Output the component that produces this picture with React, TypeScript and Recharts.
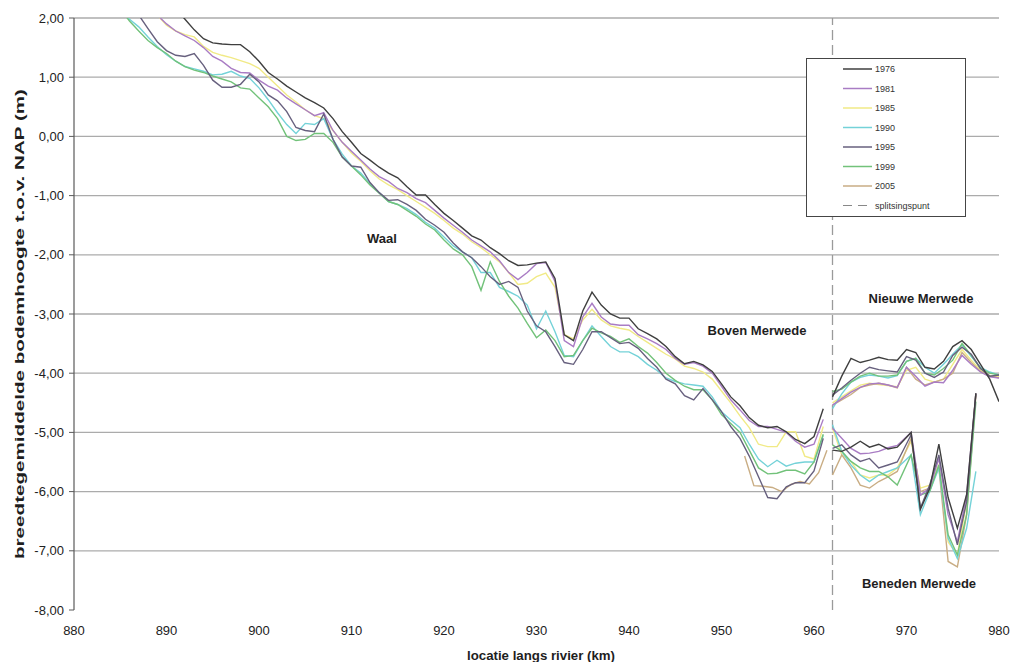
import React from "react";
import {
  LineChart,
  Line,
  XAxis,
  YAxis,
  CartesianGrid,
  ReferenceLine,
  Customized,
} from "recharts";

// ---- categories / ticks ----
const xTicks = [880, 890, 900, 910, 920, 930, 940, 950, 960, 970, 980];
const yTicks = [-8, -7, -6, -5, -4, -3, -2, -1, 0, 1, 2];
const gridValues = [-7, -6, -5, -4, -3, -2, -1, 0, 1, 2];
const splitKm = 962;

// ---- Waal / Boven Merwede (km 884 .. 961) ----
const kmWaal = [
  884, 885, 886, 887, 888, 889, 890, 891, 892, 893,
  894, 895, 896, 897, 898, 899, 900, 901, 902, 903,
  904, 905, 906, 907, 908, 909, 910, 911, 912, 913,
  914, 915, 916, 917, 918, 919, 920, 921, 922, 923,
  924, 925, 926, 927, 928, 929, 930, 931, 932, 933,
  934, 935, 936, 937, 938, 939, 940, 941, 942, 943,
  944, 945, 946, 947, 948, 949, 950, 951, 952, 953,
  954, 955, 956, 957, 958, 959, 960, 961,
];
const waal1976 = [
  3.0, 2.9, 2.8, 2.7, 2.6, 2.45, 2.3, 2.15, 1.98, 1.8,
  1.65, 1.58, 1.56, 1.55, 1.55, 1.43, 1.27, 1.08, 0.97, 0.85,
  0.75, 0.65, 0.57, 0.48, 0.3, 0.08, -0.1, -0.29, -0.4, -0.52,
  -0.62, -0.7, -0.85, -0.99, -0.99, -1.15, -1.3, -1.42, -1.55, -1.68,
  -1.75, -1.88, -1.98, -2.1, -2.18, -2.17, -2.14, -2.12, -2.4, -3.35,
  -3.45, -2.95, -2.63, -2.85, -3.0, -3.07, -3.07, -3.25, -3.33, -3.42,
  -3.55, -3.72, -3.84, -3.8, -3.86, -3.97, -4.18, -4.4, -4.55, -4.75,
  -4.88, -4.92, -4.9, -4.99, -5.12, -5.19, -5.07, -4.6,
];
const waal1981 = [
  2.8, 2.65, 2.5, 2.35, 2.2, 2.05, 1.9, 1.78, 1.7, 1.62,
  1.5, 1.35, 1.27, 1.15, 1.08, 1.07, 0.95, 0.85, 0.78, 0.65,
  0.55, 0.45, 0.35, 0.4, 0.1, -0.1, -0.25, -0.4, -0.55, -0.68,
  -0.76, -0.88, -0.95, -1.05, -1.12, -1.25, -1.38, -1.5, -1.62, -1.75,
  -1.85, -1.95, -2.1, -2.3, -2.42, -2.3, -2.15, -2.13, -2.45, -3.45,
  -3.55, -3.05, -2.82, -3.05, -3.17, -3.19, -3.19, -3.35, -3.42, -3.5,
  -3.6, -3.75, -3.85, -3.82, -3.88, -4.0, -4.22, -4.45, -4.62, -4.8,
  -4.9, -4.9, -4.95, -5.0, -5.15, -5.25, -5.2, -4.78,
];
const waal1985 = [
  2.8, 2.65, 2.5, 2.35, 2.2, 2.05, 1.88, 1.78, 1.72, 1.68,
  1.52, 1.42, 1.37, 1.33, 1.28, 1.23, 1.15, 1.0, 0.85, 0.7,
  0.58, 0.45, 0.35, 0.3, 0.1, -0.1, -0.28, -0.42, -0.58, -0.72,
  -0.82, -0.9, -1.0, -1.1, -1.2, -1.3, -1.42, -1.55, -1.65, -1.78,
  -1.88, -2.0, -2.12, -2.3, -2.5, -2.48, -2.37, -2.31, -2.55, -3.35,
  -3.42, -3.1, -2.92, -3.1, -3.2, -3.24, -3.27, -3.38, -3.48, -3.58,
  -3.68, -3.76, -3.88, -3.92, -3.98, -4.1, -4.3, -4.5, -4.72, -4.92,
  -5.2, -5.24, -5.24, -4.99, -4.99, -5.4, -5.45, -4.9,
];
const waal1990 = [
  2.3, 2.15, 1.98, 1.85, 1.68, 1.52, 1.38, 1.27, 1.18, 1.14,
  1.1, 1.04, 1.05, 1.1, 1.02, 0.98, 0.82, 0.62, 0.4, 0.2,
  0.05, 0.22, 0.2, 0.3, -0.05, -0.3, -0.5, -0.62, -0.8, -0.95,
  -1.1, -1.15, -1.22, -1.32, -1.45, -1.55, -1.7, -1.85, -1.95, -2.05,
  -2.3, -2.3, -2.55, -2.62, -2.7, -2.85, -3.25, -2.95, -3.3, -3.7,
  -3.72, -3.45, -3.2, -3.38, -3.55, -3.64, -3.64, -3.72, -3.85, -3.95,
  -4.08, -4.14, -4.18, -4.2, -4.22, -4.4, -4.65, -4.79, -4.92, -5.2,
  -5.45, -5.58, -5.47, -5.57, -5.52, -5.5, -5.5, -5.05,
];
const waal1995 = [
  2.8, 2.55, 2.3, 2.05, 1.82, 1.6, 1.45, 1.37, 1.35, 1.4,
  1.2, 0.95, 0.83, 0.83, 0.88, 1.05, 0.92, 0.7, 0.6, 0.42,
  0.15, 0.1, 0.08, 0.38, -0.05, -0.35, -0.5, -0.52, -0.78, -0.95,
  -1.08, -1.07, -1.15, -1.25, -1.4, -1.5, -1.62, -1.8, -1.95, -2.05,
  -2.2, -2.37, -2.5, -2.45, -2.55, -2.95, -3.2, -3.3, -3.55, -3.82,
  -3.85, -3.6, -3.3, -3.3, -3.4, -3.5, -3.48, -3.58, -3.75, -3.9,
  -4.1, -4.18, -4.38, -4.45, -4.26, -4.45, -4.65, -4.9, -5.1, -5.4,
  -5.75, -6.1, -6.12, -5.92, -5.85, -5.85, -5.65, -5.1,
];
const waal1999 = [
  2.35, 2.15, 1.95, 1.78, 1.62, 1.5, 1.4, 1.27, 1.18, 1.12,
  1.08, 1.02, 0.97, 0.92, 0.82, 0.8, 0.65, 0.5, 0.3, 0.0,
  -0.07, -0.05, 0.05, 0.05, -0.1, -0.35, -0.5, -0.65, -0.82, -0.96,
  -1.1, -1.15, -1.25, -1.35, -1.48, -1.58, -1.75, -1.9, -2.0, -2.2,
  -2.6, -2.12, -2.45, -2.7, -2.9, -3.16, -3.4, -3.27, -3.45, -3.72,
  -3.7, -3.45, -3.24, -3.32, -3.38, -3.48, -3.42, -3.55, -3.66, -3.82,
  -4.0, -4.12, -4.22, -4.28, -4.28, -4.45, -4.7, -4.85, -5.0, -5.3,
  -5.6, -5.7, -5.69, -5.64, -5.64, -5.7, -5.5, -5.03,
];
const km2005Boven = [952.5, 953.5, 954.5, 955.5, 956.5, 957.5, 958.5, 959.5, 960.5, 961.4];
const boven2005 = [-5.4, -5.9, -5.91, -5.93, -6.0, -5.88, -5.83, -5.87, -5.68, -5.3];

// ---- Nieuwe Merwede (km 962 .. 980) ----
const kmNieuwe = [962, 963, 964, 965, 966, 967, 968, 969, 970, 971, 972, 973, 974, 975, 976, 977, 978, 979, 980];
const nieuwe1976 = [-4.4, -4.05, -3.75, -3.82, -3.78, -3.73, -3.77, -3.78, -3.6, -3.65, -3.9, -3.93, -3.8, -3.55, -3.45, -3.6, -3.85, -4.1, -4.48];
const nieuwe1981 = [-4.54, -4.43, -4.32, -4.24, -4.18, -4.17, -4.2, -4.24, -3.9, -4.05, -4.22, -4.15, -4.16, -3.95, -3.7, -3.85, -3.98, -4.06, -4.08];
const nieuwe1985 = [-4.5, -4.4, -4.3, -4.2, -4.17, -4.19, -4.21, -4.23, -3.95, -3.9, -4.1, -4.15, -4.1, -3.85, -3.6, -3.78, -3.95, -4.04, -4.06];
const nieuwe1990 = [-4.6, -4.35, -4.15, -4.07, -4.03, -4.05, -4.08, -4.04, -3.8, -3.75, -3.9, -4.0, -3.85, -3.68, -3.52, -3.72, -3.9, -3.98, -4.03];
const nieuwe1995 = [-4.37, -4.25, -4.12, -4.0, -3.9, -3.94, -3.96, -3.98, -3.72, -3.78, -4.0, -4.07, -3.98, -3.7, -3.56, -3.68, -3.92, -4.05, -4.03];
const nieuwe1999 = [-4.31, -4.27, -4.15, -4.05, -4.0, -4.05, -4.05, -4.03, -3.8, -3.75, -4.0, -4.03, -3.92, -3.78, -3.5, -3.7, -3.92, -4.0, -4.03];
const nieuwe2005 = [-4.54, -4.45, -4.36, -4.24, -4.2, -4.17, -4.2, -4.25, -3.9, -4.1, -4.2, -4.15, -4.1, -4.0, -3.65, -3.82, -3.97, -4.05, -4.08];

// ---- Beneden Merwede (km 962 .. 977.5) ----
const kmBeneden = [962, 963, 964, 965, 966, 967, 968, 969, 970.5, 971.5, 972.5, 973.5, 974.5, 975.5, 976.5, 977.5];
const beneden1976 = [-5.3, -5.32, -5.25, -5.15, -5.25, -5.2, -5.28, -5.25, -5.0, -6.3, -5.95, -5.2, -6.1, -6.62, -6.05, -4.34];
const beneden1981 = [-4.93, -5.1, -5.27, -5.36, -5.35, -5.32, -5.26, -5.22, -5.0, -6.06, -5.94, -5.44, -6.39, -6.85, -6.06, -4.34];
const beneden1985 = [-4.93, -5.38, -5.49, -5.72, -5.77, -5.72, -5.72, -5.6, -5.15, -5.94, -5.89, -5.55, -6.85, -7.07, -6.17, -4.34];
const beneden1990 = [-4.87, -5.32, -5.55, -5.72, -5.83, -5.72, -5.66, -5.6, -5.38, -6.39, -6.0, -5.6, -6.79, -7.13, -6.62, -5.66];
const beneden1995 = [-5.27, -5.21, -5.38, -5.49, -5.44, -5.6, -5.55, -5.5, -5.04, -6.28, -5.89, -5.38, -6.28, -6.9, -6.17, -4.34];
const beneden1999 = [-5.21, -5.32, -5.49, -5.6, -5.66, -5.66, -5.75, -5.89, -5.38, -6.06, -6.0, -5.55, -6.73, -7.07, -6.39, -4.48];
const beneden2005 = [-5.72, -5.38, -5.6, -5.89, -5.94, -5.83, -5.75, -5.66, -5.1, -6.0, -5.94, -5.6, -7.18, -7.27, -6.39, -4.37];

// ---- series styling ----
const years = ["1976", "1981", "1985", "1990", "1995", "1999", "2005"];
const colors: Record<string, string> = {
  "1976": "#3f3f3f",
  "1981": "#a97cc4",
  "1985": "#f1ea86",
  "1990": "#74d2d8",
  "1995": "#67607e",
  "1999": "#72c27a",
  "2005": "#c9ad84",
};
const drawOrder = ["1985", "2005", "1990", "1999", "1981", "1995", "1976"];

const mk = (kms: number[], vals: number[]) => kms.map((k, i) => ({ km: k, v: vals[i] }));

const segments: Record<string, { kms: number[]; vals: number[] }[]> = {
  "1976": [
    { kms: kmWaal, vals: waal1976 },
    { kms: kmNieuwe, vals: nieuwe1976 },
    { kms: kmBeneden, vals: beneden1976 },
  ],
  "1981": [
    { kms: kmWaal, vals: waal1981 },
    { kms: kmNieuwe, vals: nieuwe1981 },
    { kms: kmBeneden, vals: beneden1981 },
  ],
  "1985": [
    { kms: kmWaal, vals: waal1985 },
    { kms: kmNieuwe, vals: nieuwe1985 },
    { kms: kmBeneden, vals: beneden1985 },
  ],
  "1990": [
    { kms: kmWaal, vals: waal1990 },
    { kms: kmNieuwe, vals: nieuwe1990 },
    { kms: kmBeneden, vals: beneden1990 },
  ],
  "1995": [
    { kms: kmWaal, vals: waal1995 },
    { kms: kmNieuwe, vals: nieuwe1995 },
    { kms: kmBeneden, vals: beneden1995 },
  ],
  "1999": [
    { kms: kmWaal, vals: waal1999 },
    { kms: kmNieuwe, vals: nieuwe1999 },
    { kms: kmBeneden, vals: beneden1999 },
  ],
  "2005": [
    { kms: km2005Boven, vals: boven2005 },
    { kms: kmNieuwe, vals: nieuwe2005 },
    { kms: kmBeneden, vals: beneden2005 },
  ],
};

const FONT = "Arial, 'Liberation Sans', Helvetica, sans-serif";
const fmt = (v: number) => v.toFixed(2).replace(".", ",");

const Annotations = () => (
  <g style={{ fontFamily: FONT }}>
    <text x={382} y={243} textAnchor="middle" fontSize={13} fontWeight="bold" fill="#1e1e1e">Waal</text>
    <text x={757} y={335} textAnchor="middle" fontSize={13} fontWeight="bold" fill="#1e1e1e">Boven Merwede</text>
    <text x={921} y={303} textAnchor="middle" fontSize={13} fontWeight="bold" fill="#1e1e1e">Nieuwe Merwede</text>
    <text x={919} y={588} textAnchor="middle" fontSize={13} fontWeight="bold" fill="#1e1e1e">Beneden Merwede</text>
    <text
      x={24}
      y={324}
      transform="rotate(-90 24 324)"
      textAnchor="middle"
      fontSize={12}
      fontWeight="bold"
      fill="#1e1e1e"
      textLength={470}
      lengthAdjust="spacingAndGlyphs"
    >
      breedtegemiddelde bodemhoogte t.o.v. NAP (m)
    </text>
    <text
      x={541}
      y={660}
      textAnchor="middle"
      fontSize={12}
      fontWeight="bold"
      fill="#1e1e1e"
      textLength={148}
      lengthAdjust="spacingAndGlyphs"
    >
      locatie langs rivier (km)
    </text>
  </g>
);

const LegendBox = () => (
  <div
    style={{
      position: "absolute",
      left: 806,
      top: 58,
      width: 158,
      height: 157,
      border: "1.5px solid #454545",
      background: "#fff",
    }}
  >
    <svg width={158} height={157} style={{ display: "block" }}>
      {years.map((y, i) => (
        <g key={y}>
          <line x1={36} x2={65} y1={10 + i * 19.5} y2={10 + i * 19.5} stroke={colors[y]} strokeWidth={1.5} />
          <text x={68} y={13 + i * 19.5} fontSize={9} fill="#333" style={{ fontFamily: FONT }}>{y}</text>
        </g>
      ))}
      <line x1={36} x2={65} y1={10 + 7 * 19.5} y2={10 + 7 * 19.5} stroke="#888" strokeWidth={1} strokeDasharray="9 6" />
      <text x={68} y={13 + 7 * 19.5} fontSize={9} fill="#333" style={{ fontFamily: FONT }}>splitsingspunt</text>
    </svg>
  </div>
);

export default function App() {
  return (
    <div style={{ position: "absolute", left: 0, top: 0, width: 1014, height: 662, background: "#fff", fontFamily: FONT }}>
      <LineChart width={1014} height={662} margin={{ top: 18, right: 15, bottom: 0, left: 0 }}>
        <CartesianGrid vertical={false} horizontalValues={gridValues} stroke="#ababab" strokeWidth={1.3} />
        <XAxis
          type="number"
          dataKey="km"
          domain={[880, 980]}
          ticks={xTicks}
          allowDataOverflow
          axisLine={false}
          tickLine={false}
          height={52}
          tickSize={6}
          tickMargin={10}
          tick={{ fontSize: 13, fill: "#222", fontFamily: FONT }}
        />
        <YAxis
          type="number"
          domain={[-8, 2]}
          ticks={yTicks}
          allowDataOverflow
          width={74}
          tickFormatter={fmt}
          axisLine={{ stroke: "#5a5a5a", strokeWidth: 1.2 }}
          tickLine={{ stroke: "#5a5a5a" }}
          tickSize={5}
          tickMargin={5}
          tick={{ fontSize: 13, fill: "#222", fontFamily: FONT }}
        />
        <ReferenceLine x={splitKm} stroke="#9a9a9a" strokeWidth={1.3} strokeDasharray="10 5" ifOverflow="extendDomain" />
        {drawOrder.flatMap((y) =>
          segments[y].map((s, j) => (
            <Line
              key={`${y}-${j}`}
              data={mk(s.kms, s.vals)}
              dataKey="v"
              type="linear"
              stroke={colors[y]}
              strokeWidth={1.4}
              dot={false}
              activeDot={false}
              isAnimationActive={false}
              legendType="none"
            />
          ))
        )}
        <Customized component={Annotations} />
      </LineChart>
      <LegendBox />
    </div>
  );
}
